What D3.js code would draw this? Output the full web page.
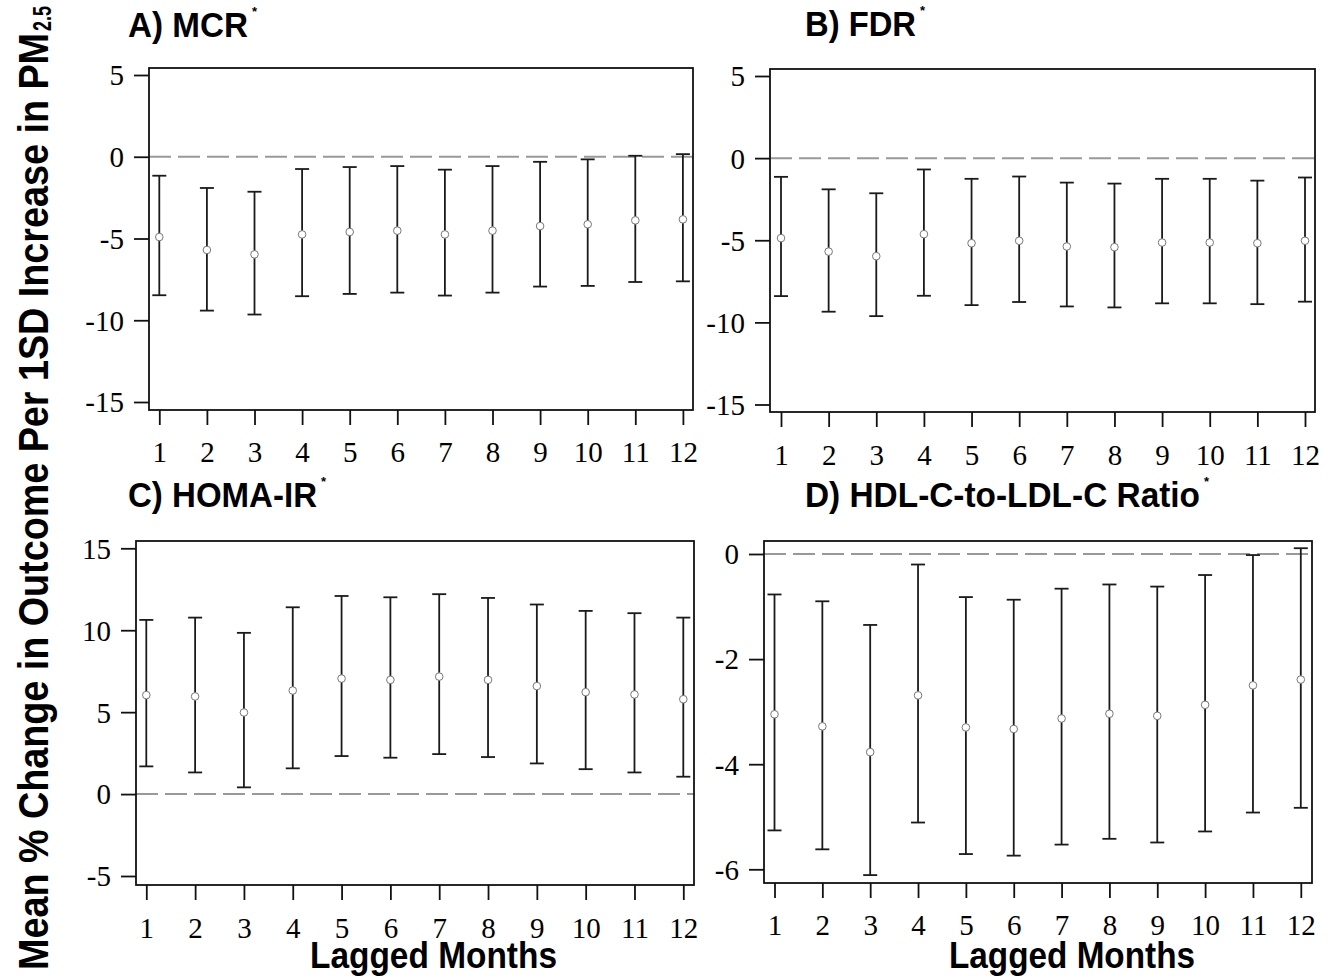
<!DOCTYPE html>
<html>
<head>
<meta charset="utf-8">
<script src="https://cdn.jsdelivr.net/npm/d3@7"></script>
<style>
  html, body { margin: 0; padding: 0; background: #fff; }
  svg { display: block; }
  .bold { font-family: "Liberation Sans", Arial, sans-serif; font-weight: bold; fill: #000; }
</style>
</head>
<body>
<svg id="chart" width="1337" height="977"></svg>
<script>
// ---------------- DATA ----------------
const months = [1, 2, 3, 4, 5, 6, 7, 8, 9, 10, 11, 12];

const mcrMean  = [-4.91, -5.70, -5.97, -4.75, -4.60, -4.52, -4.75, -4.52, -4.24, -4.13, -3.89, -3.83];
const mcrLower = [-8.47, -9.41, -9.65, -8.53, -8.39, -8.31, -8.49, -8.31, -7.94, -7.90, -7.66, -7.62];
const mcrUpper = [-1.16, -1.91, -2.14, -0.75, -0.63, -0.57, -0.79, -0.57, -0.31, -0.16, 0.06, 0.16];

const fdrMean  = [-4.87, -5.69, -5.97, -4.63, -5.18, -5.03, -5.38, -5.42, -5.14, -5.14, -5.18, -5.03];
const fdrLower = [-8.40, -9.35, -9.62, -8.38, -8.95, -8.76, -9.03, -9.09, -8.84, -8.84, -8.89, -8.74];
const fdrUpper = [-1.14, -1.90, -2.14, -0.69, -1.26, -1.12, -1.49, -1.55, -1.26, -1.26, -1.37, -1.18];

const homaMean  = [6.04, 5.96, 4.98, 6.32, 7.05, 6.97, 7.17, 6.97, 6.59, 6.22, 6.08, 5.79];
const homaLower = [1.69, 1.32, 0.41, 1.57, 2.32, 2.22, 2.44, 2.26, 1.87, 1.52, 1.32, 1.06];
const homaUpper = [10.63, 10.77, 9.84, 11.40, 12.09, 12.01, 12.20, 11.97, 11.57, 11.18, 11.04, 10.77];

const hdlMean  = [-3.05, -3.28, -3.77, -2.69, -3.30, -3.33, -3.13, -3.04, -3.08, -2.87, -2.50, -2.39];
const hdlLower = [-5.26, -5.62, -6.11, -5.11, -5.71, -5.74, -5.53, -5.42, -5.49, -5.28, -4.92, -4.83];
const hdlUpper = [-0.77, -0.90, -1.35, -0.20, -0.82, -0.87, -0.66, -0.58, -0.62, -0.40, -0.02, 0.11];

const ticksAB = [5, 0, -5, -10, -15];
const ticksC  = [15, 10, 5, 0, -5];
const ticksD  = [0, -2, -4, -6];

const titles = ["A) MCR", "B) FDR", "C) HOMA-IR", "D) HDL-C-to-LDL-C Ratio"];
const xTitle = "Lagged Months";
const yTitle = "Mean % Change in Outcome Per 1SD Increase in PM";
const yTitleSub = "2.5";

// ---------------- LAYOUT ----------------
const svg = d3.select("#chart");
const serif = '"Liberation Serif", "Times New Roman", serif';

const panels = [
  { title: titles[0], mean: mcrMean, lo: mcrLower, hi: mcrUpper, ticks: ticksAB,
    box: { l: 149, r: 693, t: 68, b: 410 }, x1: 159.3, x12: 682.9, yA: 5, pA: 75, yB: -15, pB: 402,
    tx: 128, ty: 37, tw: 120, ax: 252, labY: 462, xt: null },
  { title: titles[1], mean: fdrMean, lo: fdrLower, hi: fdrUpper, ticks: ticksAB,
    box: { l: 770, r: 1315, t: 69, b: 412 }, x1: 781, x12: 1305, yA: 5, pA: 76, yB: -15, pB: 404.5,
    tx: 805, ty: 36, tw: 111, ax: 920, labY: 465, xt: null },
  { title: titles[2], mean: homaMean, lo: homaLower, hi: homaUpper, ticks: ticksC,
    box: { l: 136, r: 694, t: 541, b: 885 }, x1: 146.3, x12: 683.3, yA: 15, pA: 548.3, yB: -5, pB: 876,
    tx: 128, ty: 507, tw: 189, ax: 321, labY: 938, xt: { x: 310, w: 247 } },
  { title: titles[3], mean: hdlMean, lo: hdlLower, hi: hdlUpper, ticks: ticksD,
    box: { l: 764, r: 1312, t: 541, b: 883 }, x1: 774.5, x12: 1300.8, yA: 0, pA: 554, yB: -6, pB: 869.3,
    tx: 805, ty: 507, tw: 395, ax: 1204, labY: 935, xt: { x: 949, w: 246 } }
];

panels.forEach(p => {
  const g = svg.append("g");
  const B = p.box;

  const xs = d3.scaleLinear().domain([1, 12]).range([p.x1, p.x12]);
  const x = d3.scaleLinear().domain([xs.invert(B.l), xs.invert(B.r)]).range([B.l, B.r]);
  const ys = d3.scaleLinear().domain([p.yA, p.yB]).range([p.pA, p.pB]);
  const y = d3.scaleLinear().domain([ys.invert(B.b), ys.invert(B.t)]).range([B.b, B.t]);

  // zero reference line
  g.append("line")
    .attr("x1", B.l).attr("x2", B.r)
    .attr("y1", y(0)).attr("y2", y(0))
    .attr("stroke", "#999").attr("stroke-width", 2)
    .attr("stroke-dasharray", "22,7");

  // frame
  g.append("rect")
    .attr("x", B.l).attr("y", B.t)
    .attr("width", B.r - B.l).attr("height", B.b - B.t)
    .attr("fill", "none").attr("stroke", "#111").attr("stroke-width", 1.8);

  // axes
  const fmt = d => String(d);   // plain hyphen-minus as in the reference
  const yAxis = d3.axisLeft(y).tickValues(p.ticks).tickSize(15).tickPadding(10).tickFormat(fmt);
  const ya = g.append("g").attr("transform", `translate(${B.l},0)`).call(yAxis);
  ya.attr("font-family", null).attr("font-size", null);
  ya.select(".domain").remove();
  ya.selectAll(".tick line").attr("stroke", "#111").attr("stroke-width", 1.8);
  ya.selectAll(".tick text").attr("dy", "0.34em").attr("fill", "#000")
    .style("font-family", serif).style("font-size", "29px");

  const xAxis = d3.axisBottom(x).tickValues(months).tickSize(15).tickPadding(0).tickFormat(fmt);
  const xa = g.append("g").attr("transform", `translate(0,${B.b})`).call(xAxis);
  xa.attr("font-family", null).attr("font-size", null);
  xa.select(".domain").remove();
  xa.selectAll(".tick line").attr("stroke", "#111").attr("stroke-width", 1.8);
  xa.selectAll(".tick text").attr("y", p.labY - B.b).attr("dy", 0).attr("fill", "#000")
    .style("font-family", serif).style("font-size", "29px");

  // error bars
  const cap = 7;
  const bars = g.selectAll(".eb").data(months).enter().append("g");
  bars.append("line")
    .attr("x1", d => x(d)).attr("x2", d => x(d))
    .attr("y1", (d, i) => y(p.lo[i])).attr("y2", (d, i) => y(p.hi[i]))
    .attr("stroke", "#1a1a1a").attr("stroke-width", 1.8);
  bars.append("line")
    .attr("x1", d => x(d) - cap).attr("x2", d => x(d) + cap)
    .attr("y1", (d, i) => y(p.lo[i])).attr("y2", (d, i) => y(p.lo[i]))
    .attr("stroke", "#1a1a1a").attr("stroke-width", 1.8);
  bars.append("line")
    .attr("x1", d => x(d) - cap).attr("x2", d => x(d) + cap)
    .attr("y1", (d, i) => y(p.hi[i])).attr("y2", (d, i) => y(p.hi[i]))
    .attr("stroke", "#1a1a1a").attr("stroke-width", 1.8);
  bars.append("circle")
    .attr("cx", d => x(d)).attr("cy", (d, i) => y(p.mean[i]))
    .attr("r", 3.8)
    .attr("fill", "#fff").attr("stroke", "#777").attr("stroke-width", 1);

  // title
  g.append("text").attr("class", "bold")
    .attr("x", p.tx).attr("y", p.ty)
    .attr("font-size", 35)
    .attr("textLength", p.tw).attr("lengthAdjust", "spacingAndGlyphs")
    .text(p.title);
  g.append("text").attr("class", "bold")
    .attr("x", p.ax).attr("y", p.ty - 21)
    .attr("font-size", 13)
    .text("*");

  // x axis title
  if (p.xt) {
    g.append("text").attr("class", "bold")
      .attr("x", p.xt.x).attr("y", 968)
      .attr("font-size", 36)
      .attr("textLength", p.xt.w).attr("lengthAdjust", "spacingAndGlyphs")
      .text(xTitle);
  }
});

// y axis title (rotated)
const yt = svg.append("g").attr("transform", "translate(48,970) rotate(-90)");
yt.append("text").attr("class", "bold")
  .attr("x", 0).attr("y", 0)
  .attr("font-size", 42)
  .attr("textLength", 937).attr("lengthAdjust", "spacingAndGlyphs")
  .text(yTitle);
svg.append("g").attr("transform", "translate(51,31) rotate(-90)")
  .append("text").attr("class", "bold")
  .attr("x", 0).attr("y", 0)
  .attr("font-size", 25)
  .attr("textLength", 25).attr("lengthAdjust", "spacingAndGlyphs")
  .text(yTitleSub);
</script>
</body>
</html>
